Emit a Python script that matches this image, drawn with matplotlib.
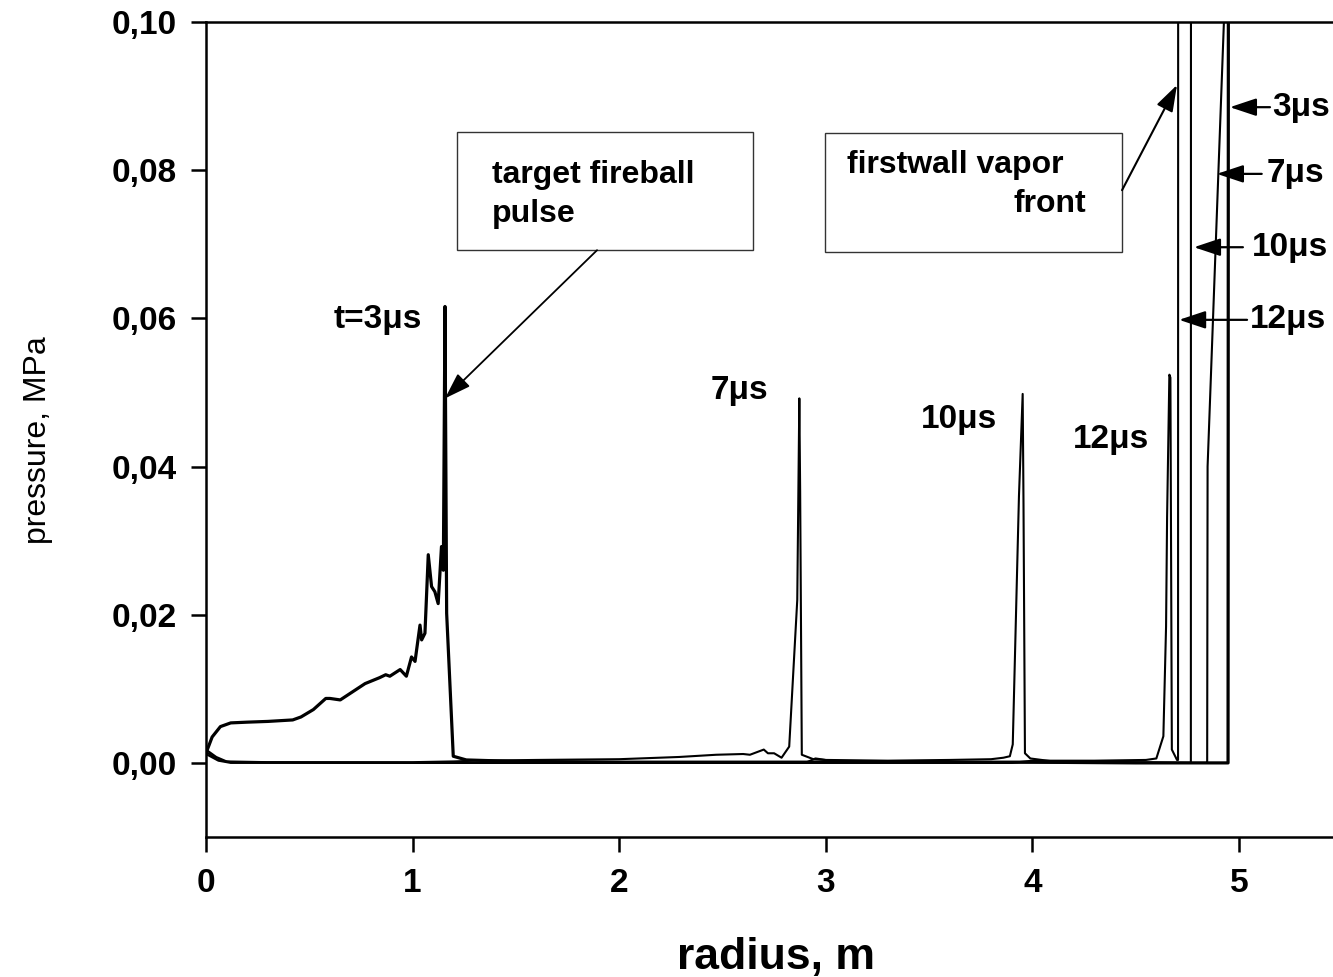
import matplotlib
matplotlib.use("Agg")
import matplotlib.pyplot as plt
from matplotlib.patches import Rectangle

plt.rcParams['font.family'] = ['Liberation Sans', 'DejaVu Sans']

# pressure profiles (radius in m, pressure in MPa)
r_3us = [0.0, 0.03, 0.07, 0.12, 0.2, 0.3, 0.42, 0.46, 0.52, 0.58, 0.6, 0.65,
         0.71, 0.77, 0.84, 0.87, 0.89, 0.94, 0.97, 0.995, 1.012, 1.036, 1.044,
         1.06, 1.076, 1.092, 1.108, 1.124, 1.14, 1.149, 1.157, 1.165, 1.197,
         1.26, 1.5, 2.0, 3.0, 4.0, 4.5, 4.9, 4.947, 4.95]
p_3us = [0.0013, 0.0035, 0.0049, 0.0054, 0.0055, 0.0056, 0.0058, 0.0062,
         0.0072, 0.0087, 0.0087, 0.0085, 0.0096, 0.0107, 0.0115, 0.0119,
         0.0117, 0.0126, 0.0117, 0.0143, 0.0137, 0.0186, 0.0166, 0.0175,
         0.0281, 0.0238, 0.0231, 0.0215, 0.0292, 0.026, 0.0616, 0.0202,
         0.0009, 0.0004, 0.0002, 0.0001, 0.0001, 0.0001, 0.0, 0.0, 0.0, 0.2]

r_7us = [0.0, 0.05, 0.1, 0.3, 1.0, 1.2, 1.3, 1.6, 2.0, 2.29, 2.47, 2.6, 2.633,
         2.70, 2.72, 2.75, 2.786, 2.823, 2.862, 2.872, 2.876, 2.884, 2.94, 3.1,
         3.5, 4.5, 4.843, 4.846, 4.848, 4.927, 4.95]
p_7us = [0.0018, 0.0008, 0.0002, 0.0001, 0.0001, 0.0002, 0.0003, 0.0004,
         0.0005, 0.0008, 0.0011, 0.0012, 0.0011, 0.0018, 0.0013, 0.0013,
         0.0007, 0.0022, 0.022, 0.0492, 0.0366, 0.0011, 0.0005, 0.0002,
         0.0001, 0.0, 0.0, 0.0, 0.040, 0.10, 0.118]

r_10us = [0.0, 0.06, 0.12, 1.0, 2.9, 2.95, 3.0, 3.3, 3.6, 3.8, 3.86, 3.891,
          3.905, 3.935, 3.953, 3.957, 3.964, 3.99, 4.1, 4.5, 4.767, 4.768]
p_10us = [0.0015, 0.0004, 0.0001, 0.0, 0.0, 0.0006, 0.0004, 0.0003, 0.0004,
          0.0005, 0.0007, 0.0009, 0.0025, 0.036, 0.0498, 0.035, 0.0013,
          0.0006, 0.0002, 0.0001, 0.0, 0.2]

r_12us = [0.0, 0.06, 0.12, 3.9, 4.0, 4.3, 4.55, 4.60, 4.634, 4.647, 4.652,
          4.663, 4.668, 4.675, 4.70, 4.705, 4.706]
p_12us = [0.0012, 0.0003, 0.0, 0.0, 0.0003, 0.0003, 0.0004, 0.0006, 0.0036,
          0.0184, 0.0332, 0.0524, 0.052, 0.0018, 0.0004, 0.0004, 0.2]

y_ticks = [0.0, 0.02, 0.04, 0.06, 0.08, 0.10]
y_tick_labels = ["0,00", "0,02", "0,04", "0,06", "0,08", "0,10"]
x_ticks = [0, 1, 2, 3, 4, 5]

fig = plt.figure(figsize=(13.33, 9.77), dpi=100)
ax = fig.add_axes([0.1545, 0.1433, 0.8455, 0.8342])

ax.plot(r_3us, p_3us, color="black", lw=2.3)
ax.plot(r_7us, p_7us, color="black", lw=1.5)
ax.plot(r_10us, p_10us, color="black", lw=1.5)
ax.plot(r_12us, p_12us, color="black", lw=1.5)

ax.set_xlim(0, 5.455)
ax.set_ylim(-0.01, 0.10)
ax.set_xticks(x_ticks)
ax.set_xticklabels([str(v) for v in x_ticks])
ax.set_yticks(y_ticks)
ax.set_yticklabels(y_tick_labels)

ax.spines["right"].set_visible(False)
for s in ["left", "top", "bottom"]:
    ax.spines[s].set_linewidth(1.8)
ax.tick_params(direction="out", length=11, width=1.8, labelsize=24)
ax.tick_params(axis="y", pad=10)
ax.tick_params(axis="x", pad=11)
for lab in ax.get_xticklabels() + ax.get_yticklabels():
    lab.set_fontweight("bold")

fig.text(0.582, 0.02, "radius, m", fontsize=32, fontweight="bold",
         ha="center", va="center")
fig.text(0.0285, 0.55, "pressure, MPa", fontsize=23, rotation=90,
         ha="center", va="center")

# time labels next to the pulses
bold = dict(fontsize=24, fontweight="bold")
ax.text(0.833, 0.0598, "t=3μs", ha="center", va="center", **bold)
ax.text(2.58, 0.0503, "7μs", ha="center", va="center", **bold)
ax.text(3.645, 0.0463, "10μs", ha="center", va="center", **bold)
ax.text(4.38, 0.0436, "12μs", ha="center", va="center", **bold)

# annotation boxes
ax.add_patch(Rectangle((1.215, 0.0692), 1.433, 0.016, fill=False,
                       lw=1.0, edgecolor="#333333"))
ax.text(1.384, 0.0783, "target fireball", ha="left", va="baseline",
        fontsize=23, fontweight="bold")
ax.text(1.384, 0.0730, "pulse", ha="left", va="baseline",
        fontsize=23, fontweight="bold")
ax.annotate("", xy=(1.157, 0.0492), xytext=(1.893, 0.0692),
            arrowprops=dict(arrowstyle="-|>,head_length=0.9,head_width=0.3",
                            color="black", lw=1.3, mutation_scale=18,
                            shrinkA=0, shrinkB=0))

ax.add_patch(Rectangle((2.996, 0.0690), 1.438, 0.016, fill=False,
                       lw=1.0, edgecolor="#333333"))
ax.text(3.103, 0.0796, "firstwall vapor", ha="left", va="baseline",
        fontsize=23, fontweight="bold")
ax.text(4.259, 0.0744, "front", ha="right", va="baseline",
        fontsize=23, fontweight="bold")
ax.annotate("", xy=(4.700, 0.0915), xytext=(4.434, 0.0773),
            arrowprops=dict(arrowstyle="-|>,head_length=0.9,head_width=0.3",
                            color="black", lw=1.5, mutation_scale=18,
                            shrinkA=0, shrinkB=0))

# labels of the vapor fronts on the right
front_labels = ["3μs", "7μs", "10μs", "12μs"]
front_tip_x = [4.956, 4.893, 4.782, 4.710]
front_tail_x = [5.150, 5.110, 5.019, 5.039]
front_text_x = [5.160, 5.135, 5.060, 5.053]
front_y = [0.0885, 0.0795, 0.0696, 0.0598]
for lab, tx, tl, xt, yy in zip(front_labels, front_tip_x, front_tail_x,
                               front_text_x, front_y):
    ax.annotate("", xy=(tx, yy), xytext=(tl, yy), annotation_clip=False,
                arrowprops=dict(arrowstyle="-|>,head_length=0.9,head_width=0.3",
                                color="black", lw=1.6, mutation_scale=18,
                                shrinkA=0, shrinkB=0))
    ax.text(xt, yy, lab, ha="left", va="center", clip_on=False, **bold)

fig.savefig("out.png", dpi=100)
